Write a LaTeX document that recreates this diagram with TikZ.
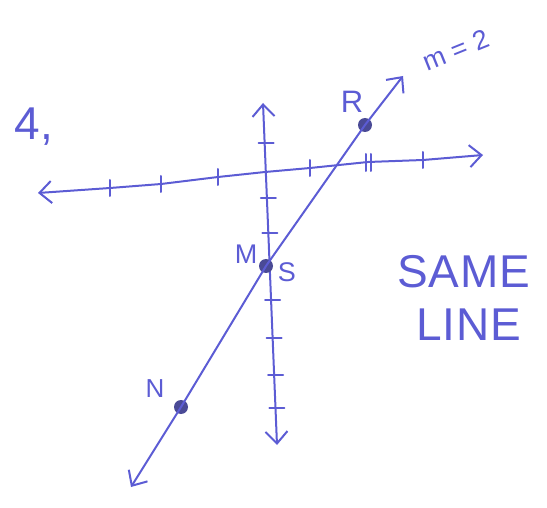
\documentclass[tikz,border=0pt]{standalone}
\usepackage{fontspec}
\setmainfont{Liberation Sans}
\usetikzlibrary{arrows.meta}
\definecolor{inkc}{RGB}{92,92,212}
\definecolor{dotc}{RGB}{74,74,150}
\begin{document}
\begin{tikzpicture}[x=1pt,y=-1pt,
  ink/.style={draw=inkc, line width=2pt, line cap=round, line join=round},
  dbarb/.style={{Straight Barb[length=12pt,width=22pt,line width=2pt]}-{Straight Barb[length=12pt,width=22pt,line width=2pt]}},
  pt/.style={circle, fill=dotc, inner sep=0pt, minimum size=14pt},
  lab/.style={text=inkc, inner sep=0pt}]
\useasboundingbox (0,0) rectangle (547,508);
% x-axis
\coordinate (xl) at (38,193);
\coordinate (xr) at (483,155);
\draw[ink, dbarb] (xl) -- (110,188) -- (161,184) -- (218,177) -- (265,172) -- (310,168) -- (368,162) -- (423,160) -- (xr);
\foreach \x/\y in {110/188,161/184,218/177,310/168,423/160}
  \draw[ink] (\x,\y-8) -- (\x,\y+8);
\draw[ink] (366,154) -- (366,171);
\draw[ink] (371,154) -- (371,171);
% y-axis
\coordinate (yt) at (263,103);
\coordinate (yb) at (277,445);
\draw[ink, dbarb] (yt) -- (yb);
\foreach \y in {143,198,233,300,338,375,408}
  \draw[ink] ({263+(\y-103)*14/342-6},\y) -- ({263+(\y-103)*14/342+9},\y);
% points
\node[pt] (R) at (365,125) {};
\node[pt] (S) at (266,266) {};
\node[pt] (N) at (181,407) {};
\coordinate (lb) at (131,487);
\coordinate (rt) at (403,76);
\draw[ink, dbarb] (lb) -- (N.center) -- (S.center) -- (R.center) -- (rt);
% labels
\node[lab, font=\fontsize{46}{46}\selectfont] (four) at (34,127) {4,};
\node[lab, font=\fontsize{31}{31}\selectfont] (Rl) at (352,102) {R};
\node[lab, font=\fontsize{27}{27}\selectfont, rotate=22] (mm) at (456,50) {m = 2};
\node[lab, font=\fontsize{27}{27}\selectfont] (Ml) at (246,254) {M};
\node[lab, font=\fontsize{27}{27}\selectfont] (Sl) at (287,272) {S};
\node[lab, font=\fontsize{26}{26}\selectfont] (Nl) at (155,389) {N};
\node[lab, font=\fontsize{46}{46}\selectfont\addfontfeatures{LetterSpace=2}] (same) at (464,272) {SAME};
\node[lab, font=\fontsize{46}{46}\selectfont\addfontfeatures{LetterSpace=2}] (line) at (469,325) {LINE};
\end{tikzpicture}
\end{document}
